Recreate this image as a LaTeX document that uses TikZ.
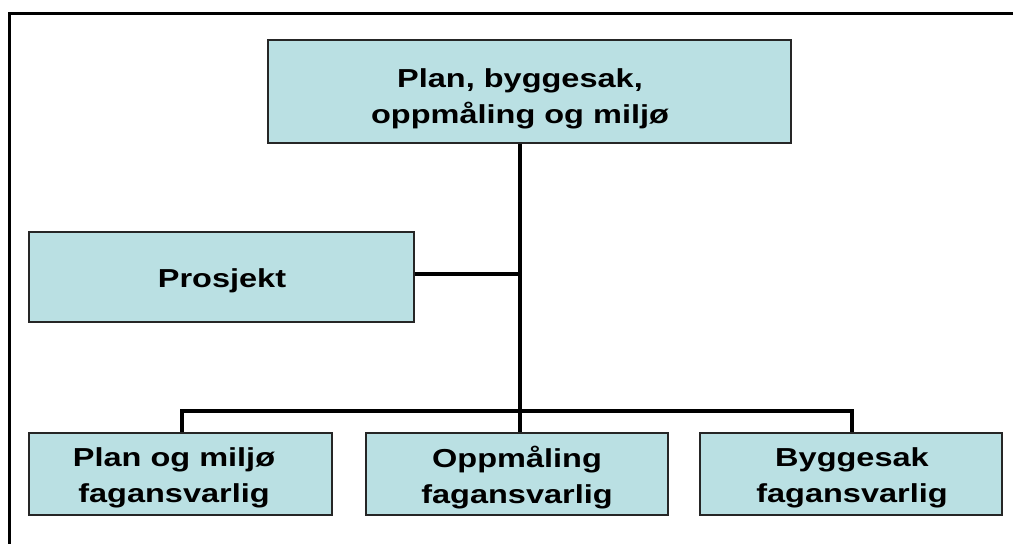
\documentclass[tikz,border=0pt]{standalone}
\usepackage{fontspec}
\setmainfont{Liberation Sans}
\definecolor{boxfill}{RGB}{186,224,227}
\newcommand{\stx}[1]{\scalebox{1.25}[1]{#1}}
\begin{document}
\begin{tikzpicture}[x=1pt,y=-1pt,
  box/.style={draw=black!85, line width=1.5pt, fill=boxfill, inner sep=0pt},
  lbl/.style={font=\bfseries\fontsize{26}{36}\selectfont, align=center, inner sep=0pt},
  conn/.style={draw=black, line width=3.3pt},
  frame/.style={draw=black, line width=3.8pt}]
\useasboundingbox (0,0) rectangle (1013,544);
% frame
\draw[frame] (9.5,544) -- (9.5,13.5) -- (1013,13.5);
% junction coordinates
\coordinate (j1) at (520,274);
\coordinate (j2) at (520,411);
\coordinate (l1) at (182,411);
\coordinate (l3) at (852,411);
% boxes
\node[box, minimum width=523pt, minimum height=103pt] (top) at (529.5,91.5) {};
\node[box, minimum width=385pt, minimum height=90pt] (pro) at (221.5,277) {};
\node[box, minimum width=303pt, minimum height=82pt] (b1) at (180.5,474) {};
\node[box, minimum width=302pt, minimum height=82pt] (b2) at (517,474) {};
\node[box, minimum width=302pt, minimum height=82pt] (b3) at (851,474) {};
% connectors
\draw[conn] (top.south -| j1) -- (b2.north -| j1);
\draw[conn] (pro.east |- j1) -- (j1);
\draw[conn] (b1.north -| l1) -- (l1) -- (l3) -- (b3.north -| l3);
% labels
\node[lbl] (topt) at (520,99) {\stx{Plan, byggesak,}\\\stx{oppmåling og miljø}};
\node[lbl] (prot) at (222,281) {\stx{Prosjekt}};
\node[lbl] (b1t) at (174,478) {\stx{Plan og miljø}\\\stx{fagansvarlig}};
\node[lbl] (b2t) at (517,478) {\stx{Oppmåling}\\\stx{fagansvarlig}};
\node[lbl] (b3t) at (852,478) {\stx{Byggesak}\\\stx{fagansvarlig}};
\end{tikzpicture}
\end{document}
